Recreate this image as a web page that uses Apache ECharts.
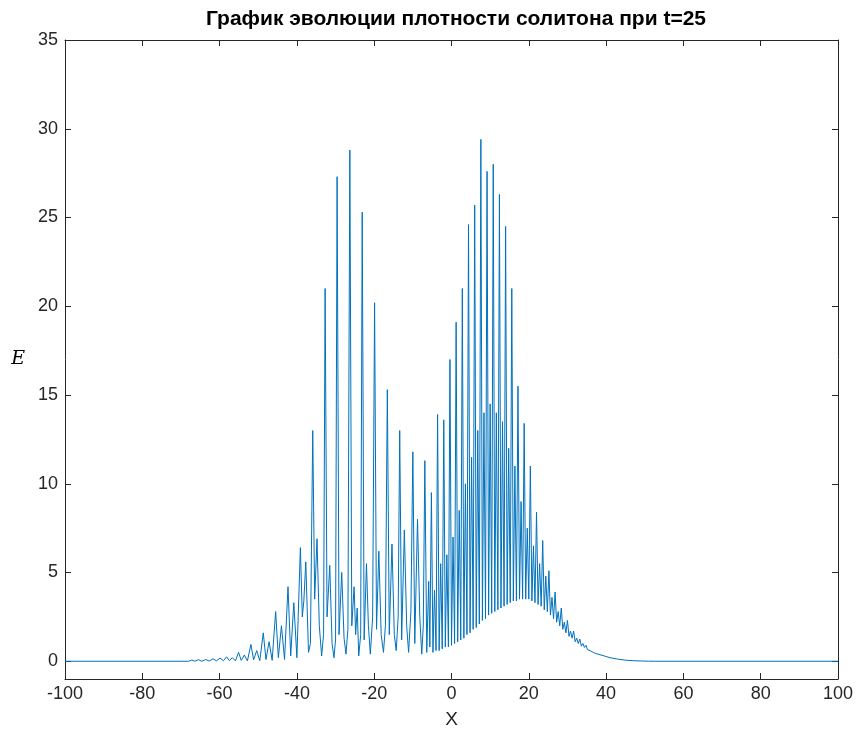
<!DOCTYPE html>
<html>
<head>
<meta charset="utf-8">
<script src="https://cdn.jsdelivr.net/npm/echarts@6/dist/echarts.min.js"></script>
<style>
html,body{margin:0;padding:0;background:#fff;}
#chart{width:858px;height:740px;}
</style>
</head>
<body>
<div id="chart"></div>
<script>
// X positions of the traced extrema of the density curve
const xVals = [
-100, -68, -67.2, -66.4, -65.5, -64.6, -63.6, -62.7, -61.7, -60.8, -59.9, -59.0, -58.2, -57.5, -56.7, -55.9, -55.1, -54.4, -53.6, -52.8, -51.9, -51.2, -50.4, -49.6, -48.7, -48.0, -47.2, -46.4, -45.5, -44.8, -44.0, -43.2, -42.3, -41.6, -40.8, -40.0, -39.1, -38.6, -38.2, -37.7, -37.0, -36.5,
-35.9, -35.4, -34.8, -34.2, -33.6, -33.1,
-32.7, -32.2, -31.5, -30.9, -30.4, -30.0,
-29.6, -29.1, -28.4, -27.8, -27.3, -26.8,
-26.3, -25.8, -25.2, -24.8, -24.4, -24.0, -23.5,
-23.1, -22.6, -22.0, -21.5, -21.0, -20.4,
-19.9, -19.4, -18.8, -18.2, -17.6, -17.1,
-16.6, -16.1, -15.4, -14.8, -14.3, -13.8,
-13.4, -12.9, -12.2, -11.6, -11.1, -10.5,
-10.0, -9.5, -8.8, -8.2, -7.7, -7.3,
-6.9, -6.4, -5.9, -5.6,
-5.2, -4.8, -4.4, -4.0,
-3.6, -3.2, -2.8, -2.4,
-2.0, -1.6, -1.2, -0.8,
-0.4, 0.0, 0.4, 0.8,
1.2, 1.6, 2.0, 2.4,
2.8, 3.2, 3.6, 4.0,
4.4, 4.8, 5.2, 5.6,
6.0, 6.4, 6.8, 7.2,
7.6, 8.0, 8.4, 8.8,
9.2, 9.6, 10.0, 10.4,
10.8, 11.2, 11.6, 12.0,
12.4, 12.8, 13.2, 13.6,
14.0, 14.4, 14.8, 15.2,
15.6, 16.0, 16.4, 16.8,
17.2, 17.6, 18.0, 18.4,
18.8, 19.2, 19.6, 20.0,
20.4, 20.8, 21.2, 21.6,
22.0, 22.4, 22.8, 23.2,
23.6, 24.0, 24.4, 24.8,
25.2, 25.6, 26.0, 26.4,
26.8, 27.2, 27.6, 28.0,
28.4, 28.8, 29.2, 29.6,
30.0, 30.4, 30.8, 31.2,
31.6, 32.0, 32.4, 32.8,
33.2, 33.6, 34.0, 34.4,
34.8, 35.2, 35.6, 36.0,
36.4, 36.8, 37.2, 37.6,
38.0, 39.5, 41.0, 43.0, 45.0, 47.0, 49.0, 51.0, 52.5, 100
];
// E values read at those positions
const eVals = [
0, 0, 0.07, 0.0, 0.09, 0.0, 0.1, 0.01, 0.14, 0.02, 0.18, 0.03, 0.25, 0.04, 0.2, 0.02, 0.5, 0.05, 0.35, 0.02, 0.95, 0.08, 0.6, 0.03, 1.6, 0.1, 1.1, 0.05, 2.8, 0.2, 2.0, 0.1, 4.2, 0.3, 3.3, 0.2, 6.4, 2.5, 3.4, 5.6, 0.5, 1.0,
13.0, 3.5, 6.9, 2.0, 0.3, 1.5,
21.0, 2.5, 5.4, 1.0, 0.2, 1.2,
27.3, 1.5, 5.0, 1.3, 0.4, 1.8,
28.8, 2.0, 4.2, 1.5, 3.0, 0.3, 1.5,
25.3, 1.2, 5.5, 2.0, 0.4, 2.5,
20.2, 1.8, 6.2, 1.5, 0.5, 2.0,
15.3, 1.5, 6.6, 1.5, 0.6, 2.5,
13.0, 1.2, 7.4, 2.0, 0.5, 2.8,
11.8, 1.0, 8.0, 2.5, 0.4, 2.0,
11.3, 0.5, 4.5, 0.8,
9.5, 0.5, 4.0, 0.6,
13.9, 0.6, 5.5, 0.7,
13.6, 0.8, 6.0, 0.8,
17.0, 0.9, 7.0, 1.0,
19.1, 1.1, 8.5, 1.2,
21.0, 1.3, 10.0, 1.5,
24.6, 1.6, 11.5, 1.8,
25.7, 1.9, 13.0, 2.1,
29.4, 2.3, 14.0, 2.4,
27.6, 2.6, 14.5, 2.7,
28.0, 2.8, 14.0, 2.9,
26.3, 3.0, 13.5, 3.1,
24.5, 3.2, 12.0, 3.3,
21.0, 3.4, 11.0, 3.4,
15.5, 3.5, 9.0, 3.5,
13.4, 3.5, 7.5, 3.5,
11.0, 3.4, 6.5, 3.3,
8.4, 3.2, 5.5, 3.1,
6.8, 2.9, 4.8, 2.8,
5.1, 2.6, 3.6, 2.4,
3.9, 2.2, 2.8, 2.0,
3.0, 1.8, 2.2, 1.6,
2.3, 1.4, 1.7, 1.3,
1.7, 1.1, 1.3, 1.0,
1.25, 0.85, 1.0, 0.78,
0.9, 0.65, 0.75, 0.58,
0.65, 0.48, 0.55, 0.42,
0.45, 0.3, 0.2, 0.12, 0.06, 0.03, 0.015, 0.005, 0, 0
];
const xTicks = [-100, -80, -60, -40, -20, 0, 20, 40, 60, 80, 100];
const yTicks = [0, 5, 10, 15, 20, 25, 30, 35];

const data = xVals.map((x, i) => [x, eVals[i]]);
const axisColor = '#262626';
const font = "'Liberation Sans', Arial, sans-serif";

const chart = echarts.init(document.getElementById('chart'), null, {renderer: 'canvas'});
chart.setOption({
  animation: false,
  backgroundColor: '#ffffff',
  title: {
    text: 'График эволюции плотности солитона при t=25',
    left: 451, top: 4, textAlign: 'center',
    textStyle: {fontFamily: font, fontSize: 21, fontWeight: 'bold', color: '#000'}
  },
  grid: {left: 65, right: 20, top: 40, bottom: 61, containLabel: false},
  xAxis: [
    {
      type: 'value', min: -100, max: 100, interval: 20, position: 'bottom',
      name: 'X', nameLocation: 'middle', nameGap: 31,
      nameTextStyle: {fontFamily: font, fontSize: 19, color: axisColor},
      axisLine: {show: true, onZero: false, lineStyle: {color: axisColor, width: 1}},
      axisTick: {show: true, inside: true, length: 6, customValues: xTicks, lineStyle: {color: axisColor}},
      axisLabel: {fontFamily: font, fontSize: 18, color: axisColor, margin: 6, customValues: xTicks},
      splitLine: {show: false}
    },
    {
      type: 'value', min: -100, max: 100, interval: 20, position: 'top',
      axisLine: {show: true, onZero: false, lineStyle: {color: axisColor, width: 1}},
      axisTick: {show: true, inside: true, length: 6, customValues: xTicks, lineStyle: {color: axisColor}},
      axisLabel: {show: false},
      splitLine: {show: false}
    }
  ],
  yAxis: [
    {
      type: 'value', min: -1, max: 35, position: 'left',
      name: 'E', nameLocation: 'middle', nameGap: 40, nameRotate: 0,
      nameTextStyle: {fontFamily: "'DejaVu Serif', 'Liberation Serif', serif", fontStyle: 'italic', fontSize: 19, color: '#000'},
      axisLine: {show: true, onZero: false, lineStyle: {color: axisColor, width: 1}},
      axisTick: {show: true, inside: true, length: 6, customValues: yTicks, lineStyle: {color: axisColor}},
      axisLabel: {fontFamily: font, fontSize: 18, color: axisColor, margin: 7, customValues: yTicks},
      splitLine: {show: false}
    },
    {
      type: 'value', min: -1, max: 35, position: 'right',
      axisLine: {show: true, onZero: false, lineStyle: {color: axisColor, width: 1}},
      axisTick: {show: true, inside: true, length: 6, customValues: yTicks, lineStyle: {color: axisColor}},
      axisLabel: {show: false},
      splitLine: {show: false}
    }
  ],
  series: [{
    type: 'line', xAxisIndex: 0, yAxisIndex: 0,
    data: data, showSymbol: false, symbol: 'none', smooth: false,
    lineStyle: {color: '#0072BD', width: 1},
    clip: true
  }]
});
</script>
</body>
</html>
